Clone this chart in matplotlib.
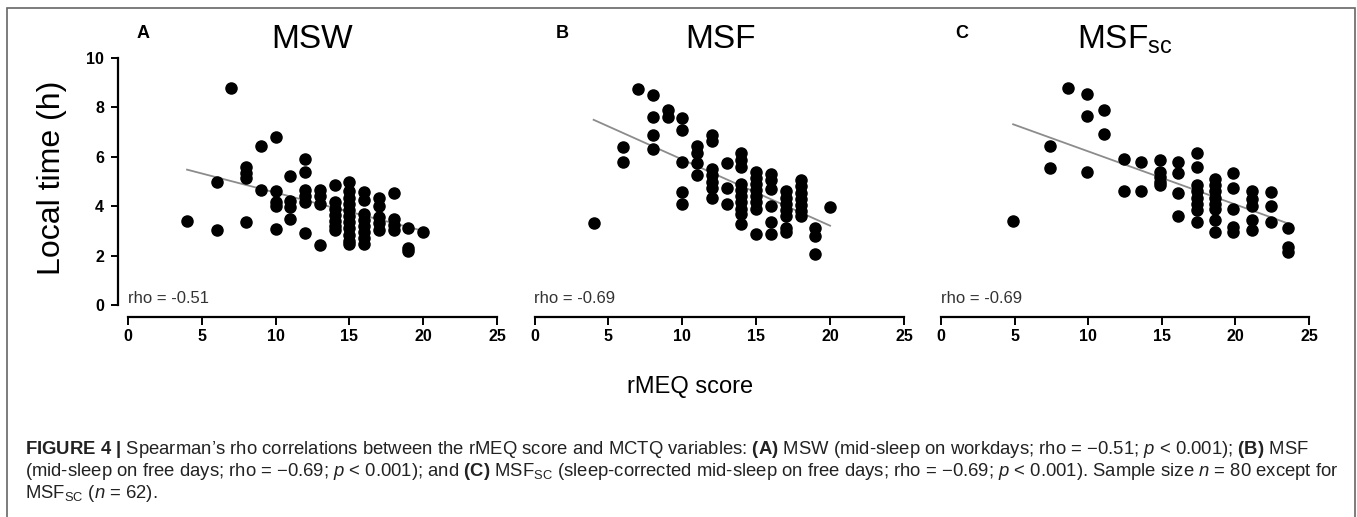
import numpy as np
import matplotlib.pyplot as plt
from matplotlib.patches import Rectangle

plt.rcParams["font.family"] = ["Liberation Sans", "DejaVu Sans"]
plt.rcParams["mathtext.fontset"] = "custom"
plt.rcParams["mathtext.rm"] = "Liberation Sans"
plt.rcParams["mathtext.it"] = "Liberation Sans:italic"
plt.rcParams["mathtext.bf"] = "Liberation Sans:bold"

# panel A - MSW
msw_score = [4, 6, 6, 7, 8, 8, 8, 8, 9, 9,
             10, 10, 10, 10, 10, 11, 11, 11, 11,
             12, 12, 12, 12, 12, 12, 13, 13, 13, 13,
             14, 14, 14, 14, 14, 14, 14,
             15, 15, 15, 15, 15, 15, 15, 15, 15, 15, 15,
             16, 16, 16, 16, 16, 16, 16, 16,
             17, 17, 17, 17, 17, 18, 18, 18, 18, 19, 19, 19, 20]
msw_time = [3.40, 4.97, 3.04, 8.80, 5.60, 5.35, 5.15, 3.35, 6.45, 4.66,
            6.82, 4.63, 4.18, 4.00, 3.06, 5.23, 4.20, 3.95, 3.47,
            5.90, 5.40, 4.65, 4.40, 4.15, 2.90, 4.65, 4.40, 4.10, 2.43,
            4.86, 4.15, 3.90, 3.65, 3.40, 3.20, 3.05,
            4.99, 4.60, 4.35, 4.10, 3.85, 3.60, 3.35, 3.10, 2.85, 2.60, 2.45,
            4.59, 4.25, 3.70, 3.45, 3.20, 2.95, 2.70, 2.45,
            4.35, 4.00, 3.55, 3.30, 3.05, 4.52, 3.50, 3.25, 3.05, 3.13, 2.30, 2.20, 2.94]

# panel B - MSF
msf_score = [4, 6, 6, 7, 8, 8, 8, 8, 9, 9,
             10, 10, 10, 10, 10, 11, 11, 11, 11,
             12, 12, 12, 12, 12, 12, 12, 13, 13, 13,
             14, 14, 14, 14, 14, 14, 14, 14, 14, 14,
             15, 15, 15, 15, 15, 15, 15, 15,
             16, 16, 16, 16, 16, 16,
             17, 17, 17, 17, 17, 17, 17,
             18, 18, 18, 18, 18, 18, 18, 19, 19, 19, 20]
msf_time = [3.33, 6.39, 5.78, 8.74, 8.50, 7.62, 6.88, 6.32, 7.90, 7.60,
            7.56, 7.09, 5.80, 4.59, 4.09, 6.45, 6.15, 5.76, 5.26,
            6.90, 6.65, 5.50, 5.25, 5.00, 4.75, 4.32, 5.76, 4.72, 4.08,
            6.15, 5.88, 5.60, 4.90, 4.65, 4.40, 4.15, 3.90, 3.68, 3.28,
            5.40, 5.15, 4.90, 4.65, 4.40, 4.15, 3.90, 2.86,
            5.30, 5.05, 4.70, 4.02, 3.35, 2.86,
            4.60, 4.35, 4.10, 3.85, 3.60, 3.10, 2.95,
            5.05, 4.80, 4.55, 4.30, 4.05, 3.80, 3.60, 3.10, 2.80, 2.06, 3.98]

# panel C - MSFsc
msfsc_score = [4.9, 7.4, 7.4, 8.6, 9.9, 9.9, 9.9, 11.1, 11.1, 12.4, 12.4, 13.6, 13.6,
               14.9, 14.9, 14.9, 14.9, 14.9, 16.1, 16.1, 16.1, 16.1,
               17.4, 17.4, 17.4, 17.4, 17.4, 17.4, 17.4, 17.4,
               18.6, 18.6, 18.6, 18.6, 18.6, 18.6, 18.6, 18.6,
               19.85, 19.85, 19.85, 19.85, 19.85, 21.1, 21.1, 21.1, 21.1, 21.1,
               22.4, 22.4, 22.4, 23.6, 23.6, 23.6]
msfsc_time = [3.40, 6.45, 5.56, 8.80, 8.53, 7.66, 5.37, 7.89, 6.91, 5.91, 4.63, 5.80, 4.63,
              5.87, 5.40, 5.20, 5.00, 4.85, 5.80, 5.33, 4.52, 3.60,
              6.14, 5.60, 4.85, 4.60, 4.35, 4.10, 3.85, 3.37,
              5.10, 4.85, 4.60, 4.35, 4.10, 3.90, 3.44, 2.97,
              5.33, 4.72, 3.89, 3.15, 2.95, 4.60, 4.30, 4.00, 3.44, 3.04,
              4.56, 4.02, 3.37, 3.13, 2.35, 2.15]

# regression lines (slope, intercept)
msw_fit = (-0.155, 6.10)
msf_fit = (-0.268, 8.57)
msfsc_fit = (-0.215, 8.37)

rho_labels = ["rho = -0.51", "rho = -0.69", "rho = -0.69"]
panel_letters = ["A", "B", "C"]
panel_titles = ["MSW", "MSF", r"MSF$_{\mathrm{sc}}$"]
xticks = [0, 5, 10, 15, 20, 25]
yticks = [0, 2, 4, 6, 8, 10]

W, H = 1357, 517
fig = plt.figure(figsize=(W / 100, H / 100), dpi=100)


def fx(px):
    return px / W


def fy(py):
    return 1 - py / H


panels = [
    (msw_score, msw_time, msw_fit, 128, 497, 143, 312),
    (msf_score, msf_time, msf_fit, 534.5, 904, 562, 720),
    (msfsc_score, msfsc_time, msfsc_fit, 941, 1309, 962, 1125),
]

for i, (xs, ys, fit, left, right, letter_x, title_x) in enumerate(panels):
    ax = fig.add_axes([fx(left), fy(305), (right - left) / W, 247 / H])
    ax.set_xlim(0, 25)
    ax.set_ylim(0, 10)
    ax.patch.set_alpha(0)

    xs = np.array(xs)
    lx = np.array([xs.min(), xs.max()])
    ax.plot(lx, fit[0] * lx + fit[1], color="#8c8c8c", lw=1.3, zorder=2)
    ax.plot(xs, ys, "o", color="black", markersize=8, zorder=3, clip_on=False)

    ax.text(0, 0.25, rho_labels[i], fontsize=12, color="#333333", ha="left", va="center")

    for side in ["top", "right"]:
        ax.spines[side].set_visible(False)
    ax.spines["bottom"].set_position(("outward", 8.6))
    ax.spines["bottom"].set_linewidth(1.6)
    ax.set_xticks(xticks)
    ax.set_xticklabels([str(t) for t in xticks], fontweight="bold")
    ax.tick_params(axis="x", direction="out", length=6, width=1.4, pad=2.5, labelsize=11.5)

    if i == 0:
        ax.spines["left"].set_position(("outward", 7.2))
        ax.spines["left"].set_linewidth(1.6)
        ax.set_yticks(yticks)
        ax.set_yticklabels([str(t) for t in yticks], fontweight="bold")
        ax.tick_params(axis="y", direction="out", length=5, width=1.4, pad=5, labelsize=11.5)
    else:
        ax.spines["left"].set_visible(False)
        ax.set_yticks([])

    fig.text(fx(letter_x), fy(34), panel_letters[i], fontsize=13, fontweight="bold",
             ha="center", va="center")
    fig.text(fx(title_x), fy(40), panel_titles[i], fontsize=24, ha="center", va="center")

fig.text(fx(52), fy(178), "Local time (h)", fontsize=23, rotation=90,
         ha="center", va="center")
fig.text(fx(690), fy(387), "rMEQ score", fontsize=17, ha="center", va="center")

caption = [
    r"$\mathbf{FIGURE\ 4\ |}$ Spearman’s rho correlations between the rMEQ score and MCTQ variables: "
    r"$\mathbf{(A)}$ MSW (mid-sleep on workdays; rho = −0.51; $p$ < 0.001); $\mathbf{(B)}$ MSF",
    r"(mid-sleep on free days; rho = −0.69; $p$ < 0.001); and $\mathbf{(C)}$ MSF$_{\mathrm{SC}}$ "
    r"(sleep-corrected mid-sleep on free days; rho = −0.69; $p$ < 0.001). Sample size $n$ = 80 except for",
    r"MSF$_{\mathrm{SC}}$ ($n$ = 62).",
]
for k, line in enumerate(caption):
    fig.text(fx(25), fy(449 + 22 * k), line, fontsize=13.3, color="#222222",
             ha="left", va="center")

fig.add_artist(Rectangle((fx(7), fy(560)), fx(1355) - fx(7), fy(8) - fy(560),
                         transform=fig.transFigure, fill=False, ec="#666666", lw=1.2))

fig.savefig("out.png", dpi=100)
